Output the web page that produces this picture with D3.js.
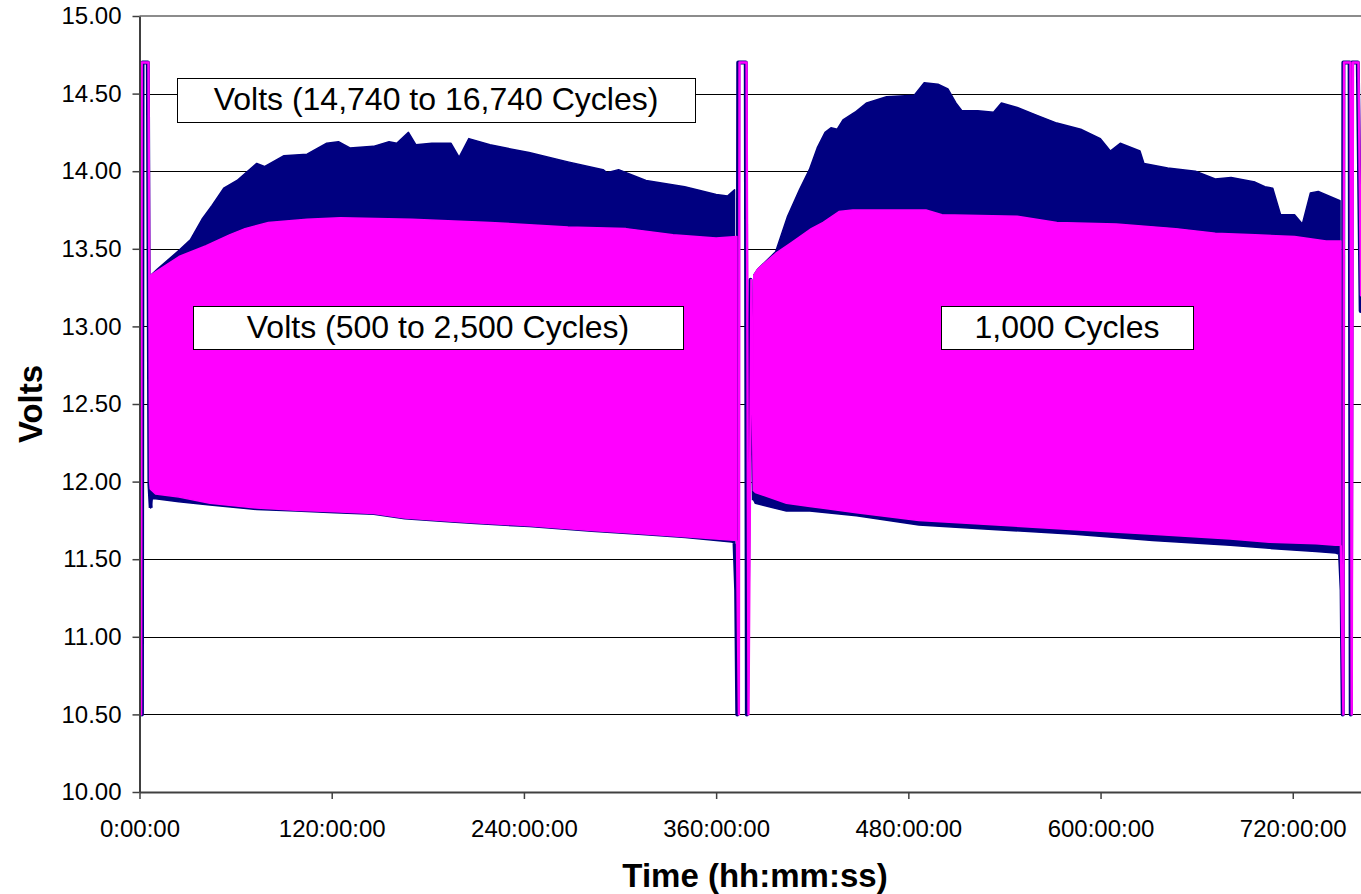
<!DOCTYPE html>
<html>
<head>
<meta charset="utf-8">
<script src="https://cdn.jsdelivr.net/npm/d3@7/dist/d3.min.js"></script>
<style>
body { margin: 0; background: #fff; }
text { font-family: "Liberation Sans", Arial, sans-serif; }
</style>
</head>
<body>
<div id="chart"></div>
<script>
var navyHi1 = [[7,13.33],[11.2,13.37],[24.7,13.49],[31.9,13.56],[39,13.69],[45.3,13.78],[52.6,13.89],[60.9,13.94],[73.2,14.05],[78,14.03],[90.2,14.10],[104.6,14.11],[116.9,14.18],[124.2,14.19],[131.4,14.15],[146.1,14.16],[155.8,14.19],[160.6,14.18],[167.9,14.25],[172.6,14.17],[182.5,14.18],[194.5,14.18],[199.5,14.09],[205.6,14.21],[218.8,14.17],[243.2,14.12],[267.5,14.06],[289.4,14.01],[291.9,13.99],[299.1,14.01],[316.2,13.94],[340.4,13.90],[360,13.85],[367.1,13.84],[371.5,13.88]];
var navyLo1 = [[7,11.83],[8,11.89],[10,11.89],[24.6,11.87],[44,11.85],[73.2,11.82],[97.6,11.81],[121.9,11.80],[146.2,11.79],[165.6,11.76],[194.8,11.74],[209.4,11.73],[243.4,11.71],[282.3,11.68],[311.5,11.66],[340.7,11.64],[360.1,11.62],[369.9,11.61],[371.5,11.60]];
var navyHi2 = [[383.5,13.33],[386,13.37],[397.1,13.48],[404.6,13.71],[412,13.88],[418.2,14.01],[423.1,14.15],[428,14.25],[431.7,14.28],[435.5,14.27],[439.2,14.33],[446.7,14.38],[454,14.44],[466.4,14.48],[483.7,14.49],[489.9,14.57],[498.5,14.56],[504.7,14.53],[509.7,14.44],[513.4,14.39],[523.3,14.39],[533.2,14.38],[538.1,14.44],[548,14.41],[560.3,14.36],[572.7,14.31],[587.6,14.27],[599.9,14.21],[606.1,14.13],[612.3,14.18],[624.6,14.13],[627.1,14.05],[641.9,14.02],[659.2,14.00],[671.6,13.95],[681.5,13.96],[696.4,13.93],[702.6,13.90],[707.5,13.89],[712.4,13.72],[721.1,13.72],[726,13.66],[731,13.86],[735.9,13.87],[749.5,13.81]];
var navyLo2 = [[383.5,11.88],[384.5,11.86],[403.9,11.81],[418.5,11.81],[447.6,11.78],[486.6,11.72],[535.2,11.69],[583.8,11.66],[632.5,11.62],[681,11.59],[705.4,11.57],[734.5,11.55],[746.7,11.54],[749.5,11.53]];

var pinkHi1 = [[7,13.33],[11.2,13.36],[24.7,13.45],[41.6,13.52],[56.2,13.59],[65.9,13.63],[80.5,13.67],[104.6,13.69],[125.4,13.70],[170,13.69],[218.8,13.67],[267.5,13.64],[303.7,13.63],[333,13.59],[360,13.57],[373,13.58]];
var pinkLo1 = [[7,11.95],[10,11.92],[24.6,11.90],[44,11.86],[73.2,11.83],[97.6,11.815],[121.9,11.805],[146.2,11.795],[165.6,11.765],[194.8,11.745],[209.4,11.735],[243.4,11.715],[282.3,11.685],[311.5,11.665],[340.7,11.645],[360.1,11.63],[373,11.62]];
var pinkHi2 = [[383.5,13.33],[386,13.37],[397.1,13.47],[407,13.54],[419.4,13.63],[426.8,13.67],[436.7,13.74],[445.3,13.75],[491,13.75],[501,13.72],[548,13.71],[572.7,13.67],[609.8,13.66],[646.9,13.63],[671.6,13.60],[696.4,13.59],[721.1,13.58],[740.8,13.55],[750,13.55]];
var pinkLo2 = [[383.5,11.94],[384.5,11.93],[403.9,11.86],[418.5,11.84],[447.6,11.80],[486.6,11.75],[535.2,11.72],[583.8,11.69],[632.5,11.66],[681,11.63],[705.4,11.61],[734.5,11.60],[746.7,11.59],[750,11.59]];

// discharge / recharge jumps between the cycling blocks
var navyJumps = [
  [[0,13.25],[1.5,10.5],[1.9,14.7],[5.2,14.7],[6.2,11.98],[7,11.83]],
  [[371.5,11.60],[372.5,11.30],[373.2,10.5],[373.8,14.7],[378.5,14.7],[379.2,10.5],[381.5,13.3],[383.5,11.88]],
  [[749.5,11.53],[750.5,11.3],[751.2,10.5],[751.6,14.7],[755.5,14.7],[756.2,10.5],[757,14.7],[760.6,14.7],[762.4,13.1],[763,13.1]]
];
var pinkJumps = [
  [[0,13.0],[1.0,10.5],[1.4,14.7],[5.6,14.7],[6.6,12.0],[7,11.95]],
  [[373,11.62],[374.2,10.5],[374.6,14.7],[379,14.7],[380.2,10.5],[382,13.3],[383.5,11.94]],
  [[750,11.59],[751.6,10.5],[752,14.7],[756,14.7],[756.8,10.5],[757.6,14.7],[761,14.7],[762.6,13.2],[763,13.2]]
];

var yTicks = [10, 10.5, 11, 11.5, 12, 12.5, 13, 13.5, 14, 14.5, 15];
var xTicks = [0, 120, 240, 360, 480, 600, 720];
var noteTexts = ["Volts (14,740 to 16,740 Cycles)", "Volts (500 to 2,500 Cycles)", "1,000 Cycles"];

var width = 1361, height = 894;
var plotLeft = 139.5, plotRight = 1361, plotTop = 16, plotBottom = 792;

var x = d3.scaleLinear().domain([0, 762.6]).range([plotLeft, plotRight]);
var y = d3.scaleLinear().domain([10, 15]).range([plotBottom, plotTop]);

var svg = d3.select("#chart").append("svg")
  .attr("width", width)
  .attr("height", height);

svg.append("defs").append("clipPath").attr("id", "plot")
  .append("rect")
  .attr("x", plotLeft).attr("y", plotTop - 2)
  .attr("width", plotRight - plotLeft).attr("height", plotBottom - plotTop + 4);

// gridlines
svg.append("g").selectAll("line")
  .data(yTicks.filter(function(d) { return d > 10 && d < 15; }))
  .enter().append("line")
  .attr("x1", plotLeft).attr("x2", plotRight)
  .attr("y1", function(d) { return Math.round(y(d)) + 0.5; })
  .attr("y2", function(d) { return Math.round(y(d)) + 0.5; })
  .attr("stroke", "#000")
  .attr("stroke-width", 1);

svg.append("line")
  .attr("x1", plotLeft).attr("x2", plotRight)
  .attr("y1", y(15)).attr("y2", y(15))
  .attr("stroke", "#8c8c8c")
  .attr("stroke-width", 2);

var line = d3.line()
  .x(function(d) { return x(d[0]); })
  .y(function(d) { return y(d[1]); });

function band(hi, lo) {
  return line(hi.concat(lo.slice().reverse())) + "Z";
}

var plot = svg.append("g").attr("clip-path", "url(#plot)");

var series = [
  { color: "#000080", jumpWidth: 4, bands: [[navyHi1, navyLo1], [navyHi2, navyLo2]], jumps: navyJumps },
  { color: "#ff00ff", jumpWidth: 2.4, bands: [[pinkHi1, pinkLo1], [pinkHi2, pinkLo2]], jumps: pinkJumps }
];

series.forEach(function(s) {
  plot.selectAll(null)
    .data(s.bands)
    .enter().append("path")
    .attr("d", function(b) { return band(b[0], b[1]); })
    .attr("fill", s.color)
    .attr("stroke", s.color)
    .attr("stroke-width", 1.5)
    .attr("stroke-linejoin", "round");

  plot.selectAll(null)
    .data(s.jumps)
    .enter().append("path")
    .attr("d", line)
    .attr("fill", "none")
    .attr("stroke", s.color)
    .attr("stroke-width", s.jumpWidth)
    .attr("stroke-linejoin", "round");
});

// axes
var yAxis = svg.append("g")
  .attr("transform", "translate(" + plotLeft + ",0)")
  .call(d3.axisLeft(y).tickValues(yTicks).tickSize(7).tickSizeOuter(0).tickPadding(11)
    .tickFormat(d3.format(".2f")));

var xAxis = svg.append("g")
  .attr("transform", "translate(0," + plotBottom + ")")
  .call(d3.axisBottom(x).tickValues(xTicks).tickSize(7).tickSizeOuter(0).tickPadding(21)
    .tickFormat(function(d) { return d + ":00:00"; }));

[yAxis, xAxis].forEach(function(a) {
  a.select(".domain").attr("stroke", "#404040").attr("stroke-width", 2);
  a.selectAll(".tick line").attr("stroke", "#404040").attr("stroke-width", 1.5);
  a.selectAll("text")
    .attr("fill", "#000")
    .style("font-family", "'Liberation Sans', Arial, sans-serif")
    .style("font-size", "24px");
});

// axis titles
svg.append("text")
  .attr("transform", "translate(42," + ((plotTop + plotBottom) / 2) + ") rotate(-90)")
  .attr("text-anchor", "middle")
  .style("font-size", "33px")
  .style("font-weight", "bold")
  .text("Volts");

svg.append("text")
  .attr("x", 755)
  .attr("y", 887)
  .attr("text-anchor", "middle")
  .style("font-size", "33px")
  .style("font-weight", "bold")
  .text("Time (hh:mm:ss)");

// text boxes
var noteBoxes = [
  { x: 177, y: 78, w: 518, h: 44 },
  { x: 193, y: 306, w: 490, h: 43 },
  { x: 941, y: 306, w: 252, h: 43 }
];

var notes = svg.append("g").selectAll("g")
  .data(noteTexts)
  .enter().append("g");

notes.append("rect")
  .attr("x", function(d, i) { return noteBoxes[i].x + 0.5; })
  .attr("y", function(d, i) { return noteBoxes[i].y + 0.5; })
  .attr("width", function(d, i) { return noteBoxes[i].w; })
  .attr("height", function(d, i) { return noteBoxes[i].h; })
  .attr("fill", "#fff")
  .attr("stroke", "#000")
  .attr("stroke-width", 1);

notes.append("text")
  .attr("x", function(d, i) { return noteBoxes[i].x + noteBoxes[i].w / 2; })
  .attr("y", function(d, i) { return noteBoxes[i].y + 32; })
  .attr("text-anchor", "middle")
  .style("font-size", "32px")
  .text(function(d) { return d; });
</script>
</body>
</html>
